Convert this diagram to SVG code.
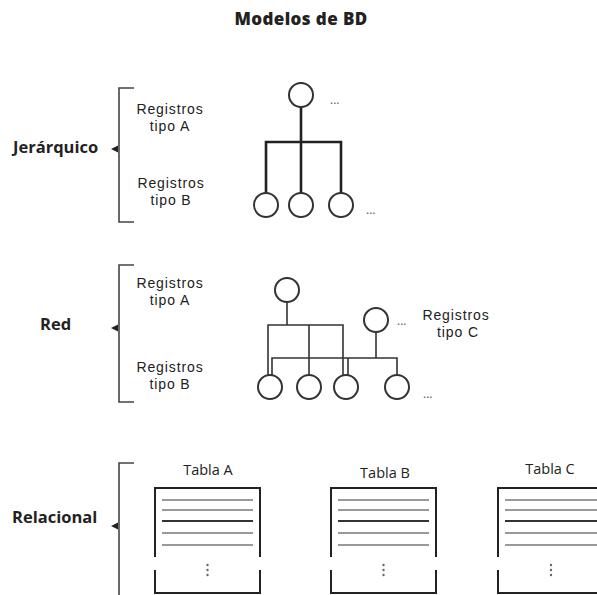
<svg xmlns="http://www.w3.org/2000/svg" width="597" height="595" viewBox="0 0 597 595">
<style>
text{font-family:"Open Sans","Liberation Sans",sans-serif;fill:#222}
.t{font-family:"Liberation Sans",Arial,sans-serif;font-size:14px;letter-spacing:0.9px}
.tb{font-size:14.5px}
.b{font-size:16.5px;font-weight:700}
.title{font-size:17px;font-weight:800;letter-spacing:0.4px}
.dots{font-size:12px;fill:#555}
.br{fill:none;stroke:#444;stroke-width:1.6}
.arr{fill:#222}
.n{fill:#fff;stroke:#333;stroke-width:2}
.h{stroke:#222;stroke-width:2.6;fill:none}
.r{stroke:#333;stroke-width:1.6;fill:none}
.box{fill:none;stroke:#222;stroke-width:2}
.gl{stroke:#999;stroke-width:2}
.dl{stroke:#333;stroke-width:2}
.dt{fill:#666}
</style>
<rect width="597" height="595" fill="#fff"/>
<text class="title" x="301" y="25" text-anchor="middle">Modelos de BD</text>

<g id="jerarquico">
<text class="b" x="13" y="153">Jerárquico</text>
<path class="br" d="M134,88 H119 V222 H134"/>
<polygon class="arr" points="111,149 118,145.5 118,152.5"/>
<text class="t" x="170" y="114" text-anchor="middle">Registros</text>
<text class="t" x="170" y="131" text-anchor="middle">tipo A</text>
<text class="t" x="171" y="188" text-anchor="middle">Registros</text>
<text class="t" x="171" y="205" text-anchor="middle">tipo B</text>
</g>

<g id="red">
<text class="b" x="40" y="330">Red</text>
<path class="br" d="M134,265 H119 V402 H134"/>
<polygon class="arr" points="111,328 118,324.5 118,331.5"/>
<text class="t" x="170" y="288" text-anchor="middle">Registros</text>
<text class="t" x="170" y="305" text-anchor="middle">tipo A</text>
<text class="t" x="170" y="372" text-anchor="middle">Registros</text>
<text class="t" x="170" y="389" text-anchor="middle">tipo B</text>
<text class="t" x="456" y="320" text-anchor="middle">Registros</text>
<text class="t" x="458" y="337" text-anchor="middle">tipo C</text>
</g>

<g id="relacional">
<text class="b" x="12" y="523">Relacional</text>
<path class="br" d="M134,463 H119 V595"/>
<polygon class="arr" points="111,526 118,522.5 118,529.5"/>
</g>

<g id="connectors">
<path class="h" d="M301,107 V193 M266,193 V142 H341 V193"/>
<path class="r" d="M287,302 V325 M268,375 V325 H343 V375 M309,325 V375"/>
<path class="r" d="M376,332 V358 M272,375 V358 H397 V375 M348,358 V375"/>
</g>

<g id="h-a"><circle class="n" cx="301" cy="95" r="12"/></g>
<g id="h-b1"><circle class="n" cx="266" cy="205" r="12"/></g>
<g id="h-b2"><circle class="n" cx="301" cy="205" r="12"/></g>
<g id="h-b3"><circle class="n" cx="341" cy="205" r="12"/></g>
<text class="dots" x="330" y="104">...</text>
<text class="dots" x="366" y="214">...</text>

<g id="r-a"><circle class="n" cx="287" cy="290" r="12"/></g>
<g id="r-c"><circle class="n" cx="376" cy="320" r="12"/></g>
<g id="r-b1"><circle class="n" cx="270" cy="387" r="12"/></g>
<g id="r-b2"><circle class="n" cx="309" cy="387" r="12"/></g>
<g id="r-b3"><circle class="n" cx="346" cy="387" r="12"/></g>
<g id="r-b4"><circle class="n" cx="397" cy="387" r="12"/></g>
<text class="dots" x="397" y="325">...</text>
<text class="dots" x="423" y="398">...</text>

<g id="tabla-a">
<text class="tb" x="208" y="475" text-anchor="middle">Tabla A</text>
<path class="box" d="M155,557 V488 H260 V557 M155,570 V593 H260 V570"/>
<path class="gl" d="M162,500 H253 M162,510 H253 M162,533 H253 M162,545 H253"/>
<path class="dl" d="M162,521 H253"/>
<circle class="dt" cx="207.5" cy="565" r="1.2"/><circle class="dt" cx="207.5" cy="570" r="1.2"/><circle class="dt" cx="207.5" cy="575" r="1.2"/>
</g>
<g id="tabla-b">
<text class="tb" x="385" y="478" text-anchor="middle">Tabla B</text>
<path class="box" d="M331,557 V488 H436 V557 M331,570 V593 H436 V570"/>
<path class="gl" d="M338,500 H429 M338,510 H429 M338,533 H429 M338,545 H429"/>
<path class="dl" d="M338,521 H429"/>
<circle class="dt" cx="383.5" cy="565" r="1.2"/><circle class="dt" cx="383.5" cy="570" r="1.2"/><circle class="dt" cx="383.5" cy="575" r="1.2"/>
</g>
<g id="tabla-c">
<text class="tb" x="550" y="474" text-anchor="middle">Tabla C</text>
<path class="box" d="M498,557 V488 H603 M498,570 V593 H603"/>
<path class="gl" d="M505,500 H597 M505,510 H597 M505,533 H597 M505,545 H597"/>
<path class="dl" d="M505,521 H597"/>
<circle class="dt" cx="551" cy="565" r="1.2"/><circle class="dt" cx="551" cy="570" r="1.2"/><circle class="dt" cx="551" cy="575" r="1.2"/>
</g>
</svg>
